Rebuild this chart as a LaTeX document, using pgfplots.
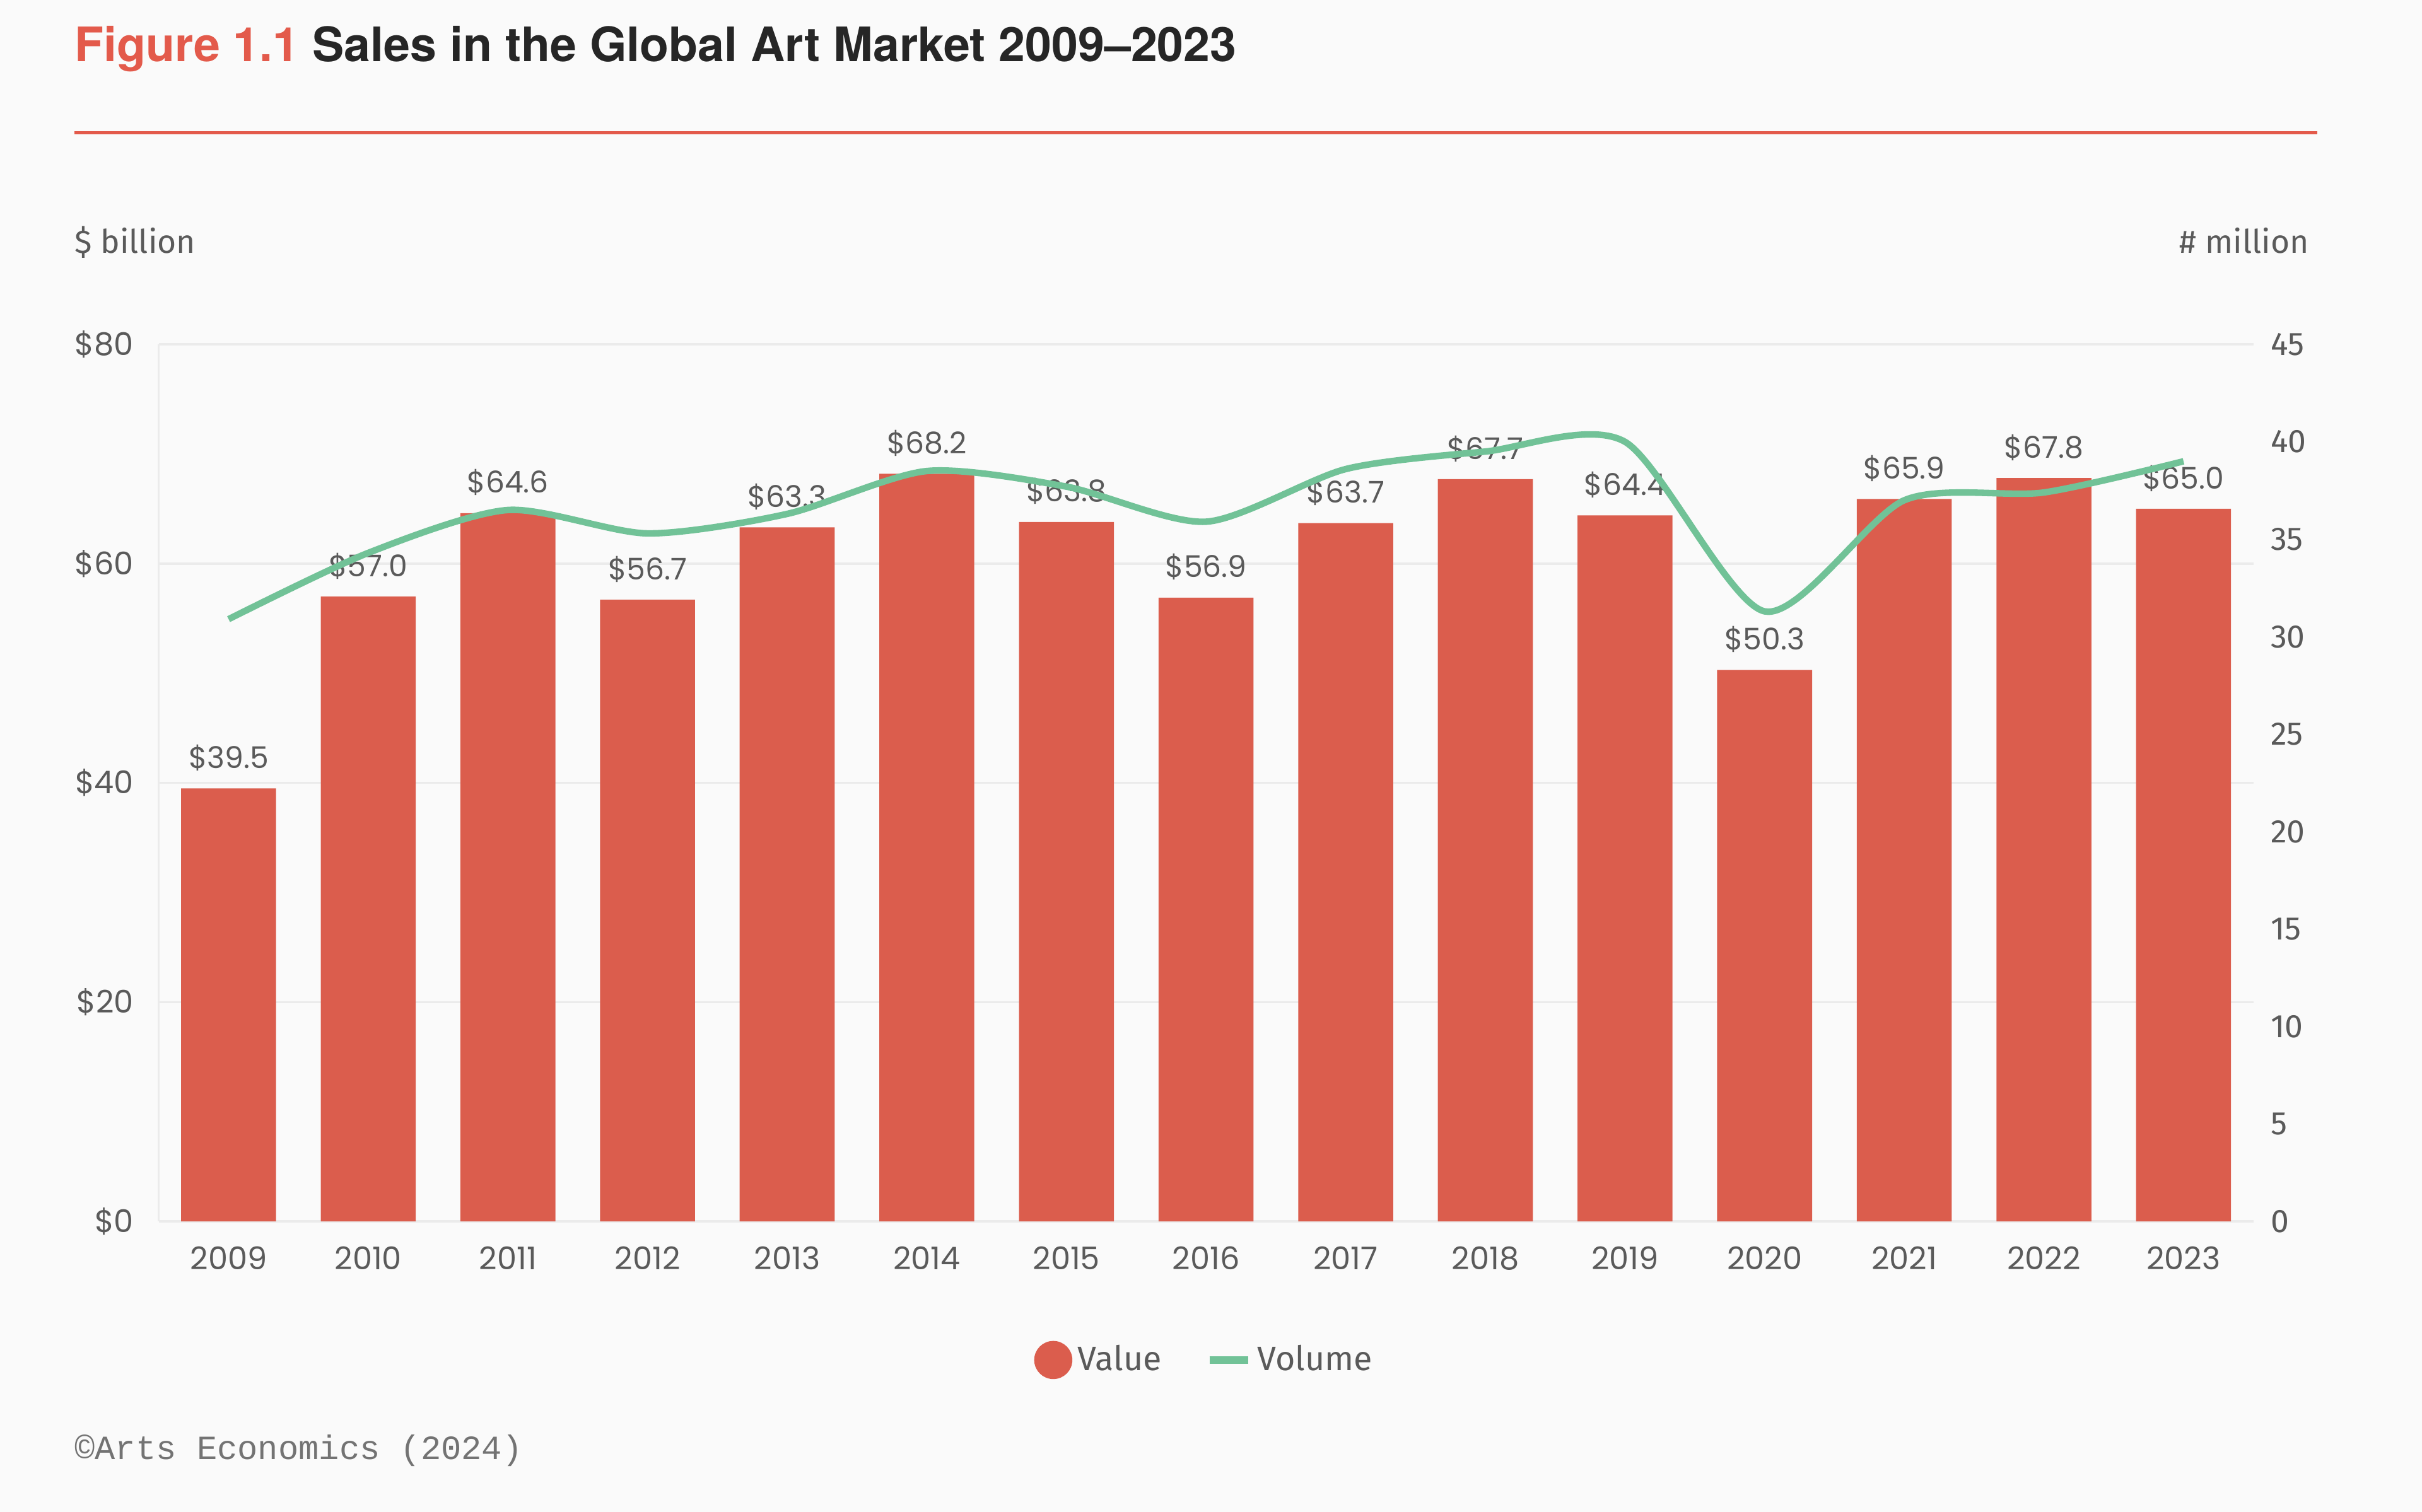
\documentclass[border=0pt]{standalone}
\usepackage{fontspec}
\usepackage{pgfplots}
\pgfplotsset{compat=1.18}
\setmainfont{Fira Sans}
\newfontfamily\titlefont{TeX Gyre Heros}
\newfontfamily\numfont{Poppins}
\newfontfamily\footfont{Liberation Mono}
\definecolor{barred}{HTML}{DB5D4D}
\definecolor{linegreen}{HTML}{71C297}
\definecolor{titlered}{HTML}{E35A4B}
\definecolor{titledark}{HTML}{262626}
\definecolor{textgrey}{HTML}{5A5A5A}
\definecolor{gridgrey}{HTML}{EBEBEB}
\definecolor{bg}{HTML}{FAFAFA}
\pgfplotsset{/pgf/number format/assume math mode=true}

\pgfplotstableread{
x value
0 39.5
1 57.0
2 64.6
3 56.7
4 63.3
5 68.2
6 63.8
7 56.9
8 63.7
9 67.7
10 64.4
11 50.3
12 65.9
13 67.8
14 65.0
}\valuedata

\pgfplotstableread{
x volume
0 30.9
1 34.3
2 36.5
3 35.3
4 36.3
5 38.5
6 37.7
7 35.9
8 38.6
9 39.5
10 40.0
11 31.3
12 37.0
13 37.4
14 39.0
}\volumedata

\begin{document}
\begin{tikzpicture}
\fill[bg] (0,0) rectangle (31.36,19.58);
\useasboundingbox (0,0) rectangle (31.36,19.58);
\node[anchor=base west, inner sep=0, font=\titlefont\bfseries\fontsize{17.5}{20}\selectfont] at (0.96,18.78) {\textcolor{titlered}{Figure 1.1} \textcolor{titledark}{Sales in the Global Art Market 2009–2023}};
\draw[titlered, line width=0.04cm] (0.96,17.86) -- (30.0,17.86);
\node[anchor=base west, inner sep=0, text=textgrey, font=\fontsize{12}{14}\selectfont] at (0.96,16.3) {\$ billion};
\node[anchor=base east, inner sep=0, text=textgrey, font=\fontsize{12}{14}\selectfont] at (29.9,16.3) {\# million};
\node[anchor=base west, inner sep=0, text=textgrey!85, font=\footfont\fontsize{12.5}{14}\selectfont] at (0.96,0.68) {©Arts Economics (2024)};

\begin{axis}[
  at={(2.056cm,3.76cm)}, anchor=south west,
  scale only axis, width=27.12cm, height=11.36cm,
  xmin=-0.5, xmax=14.5, ymin=0, ymax=80,
  ybar, bar width=0.68,
  xtick={0,...,14},
  xticklabels={2009,2010,2011,2012,2013,2014,2015,2016,2017,2018,2019,2020,2021,2022,2023},
  ytick={0,20,40,60,80},
  yticklabel={\$\pgfmathprintnumber{\tick}},
  major tick length=0,
  axis line style={draw=none},
  ymajorgrids, major grid style={gridgrey, line width=0.8pt},
  extra x ticks={-0.5}, extra x tick labels={},
  extra x tick style={grid=major, major grid style={gridgrey, line width=0.8pt}},
  tick label style={text=textgrey, font=\numfont\fontsize{11.5}{13}\selectfont},
  xticklabel style={yshift=-0.2cm},
  yticklabel style={xshift=-0.2cm},
  nodes near coords={\$\pgfmathprintnumber[fixed,fixed zerofill,precision=1]{\pgfplotspointmeta}},
  every node near coord/.append style={font=\numfont\fontsize{11}{13}\selectfont, text=textgrey, inner sep=0pt, anchor=south, yshift=0.22cm},
]
\addplot[fill=barred, draw=none] table[x=x, y=value] {\valuedata};
\end{axis}

\begin{axis}[
  at={(2.056cm,3.76cm)}, anchor=south west,
  scale only axis, width=27.12cm, height=11.36cm,
  xmin=-0.5, xmax=14.5, ymin=0, ymax=45,
  ytick={0,5,...,45},
  yticklabel pos=right,
  hide x axis,
  major tick length=0,
  axis line style={draw=none},
  yticklabel style={text=textgrey, font=\fontsize{12}{14}\selectfont, anchor=west, xshift=0.1cm},
  legend style={at={(0.5,-0.158)}, anchor=center, draw=none, fill=none, legend columns=2,
    font=\fontsize{12.5}{14}\selectfont, text=textgrey, inner sep=0pt,
    /tikz/every even column/.append style={column sep=0.5cm}},
]
\addlegendimage{legend image code/.code={\fill[barred] (0.3cm,0) circle (0.24cm);}}
\addlegendentry{Value}
\addplot[linegreen, line width=2.4pt, smooth, tension=0.45,
  legend image code/.code={\draw[linegreen, line width=0.1cm] (0,0) -- (0.5cm,0);}]
  table[x=x, y=volume] {\volumedata};
\addlegendentry{Volume}
\end{axis}
\end{tikzpicture}
\end{document}
